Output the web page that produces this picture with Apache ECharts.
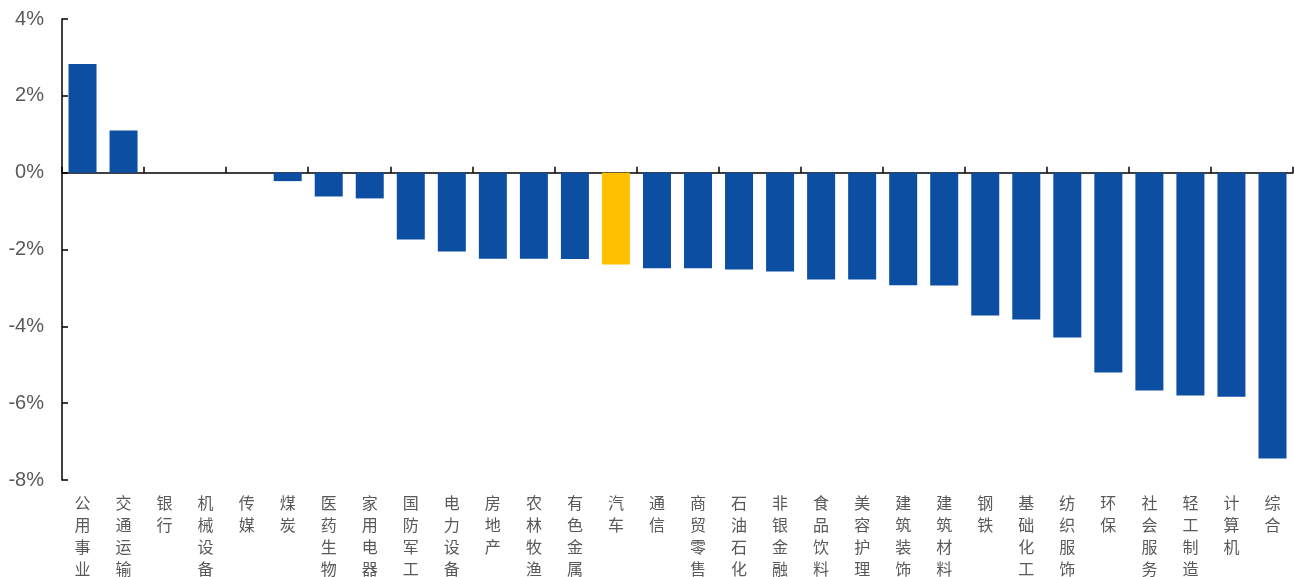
<!DOCTYPE html>
<html>
<head>
<meta charset="utf-8">
<script src="https://cdn.jsdelivr.net/npm/echarts@6/dist/echarts.min.js"></script>
<style>
html,body{margin:0;padding:0;background:#fff;}
#main{width:1294px;height:577px;}
</style>
</head>
<body>
<div id="main"></div>
<script>
var categories=['公用事业','交通运输','银行','机械设备','传媒','煤炭','医药生物','家用电器','国防军工','电力设备','房地产','农林牧渔','有色金属','汽车','通信','商贸零售','石油石化','非银金融','食品饮料','美容护理','建筑装饰','建筑材料','钢铁','基础化工','纺织服饰','环保','社会服务','轻工制造','计算机','综合'];
var values=[2.83,1.10,0,0,0,-0.22,-0.62,-0.67,-1.74,-2.05,-2.24,-2.24,-2.25,-2.39,-2.49,-2.49,-2.52,-2.57,-2.78,-2.78,-2.93,-2.94,-3.72,-3.82,-4.29,-5.20,-5.67,-5.80,-5.83,-7.44];
var highlight='汽车';
var yTicks=[-8,-6,-4,-2,0,2,4];

var chart=echarts.init(document.getElementById('main'));
var barData=values.map(function(v,i){
	return {
		value:v,
		itemStyle:{color:categories[i]==highlight?'#ffc000':'#0b4ea2'}
	};
});
var option={
	animation:false,
	grid:{left:62,right:1,top:19,bottom:97,containLabel:false,outerBoundsMode:'none'},
	xAxis:[{
		type:'category',
		data:categories,
		axisLine:{onZero:true,lineStyle:{color:'#000',width:1.5}},
		axisTick:{show:true,inside:true,length:6,lineStyle:{color:'#000',width:1.5}},
		axisLabel:{show:false}
	},{
		type:'category',
		data:categories,
		position:'bottom',
		axisLine:{show:false,onZero:false},
		axisTick:{show:false},
		axisLabel:{
			interval:0,
			margin:12,
			color:'#595959',
			fontSize:16,
			lineHeight:22,
			fontFamily:'Noto Sans CJK SC',
			verticalAlign:'top',
			formatter:function(v){return v.split('').join('\n');}
		}
	}],
	yAxis:{
		type:'value',
		min:yTicks[0],
		max:yTicks[yTicks.length-1],
		interval:2,
		splitLine:{show:false},
		axisLine:{show:true,lineStyle:{color:'#000',width:1.5}},
		axisTick:{show:true,inside:true,length:6,lineStyle:{color:'#000',width:1.5}},
		axisLabel:{
			margin:18,
			color:'#595959',
			fontSize:20,
			fontFamily:'Arial, Liberation Sans',
			formatter:function(v){return v+'%';}
		}
	},
	series:[{
		type:'bar',
		xAxisIndex:0,
		barWidth:28,
		data:barData
	}]
};
chart.setOption(option);
window.onresize=chart.resize;
</script>
</body>
</html>
